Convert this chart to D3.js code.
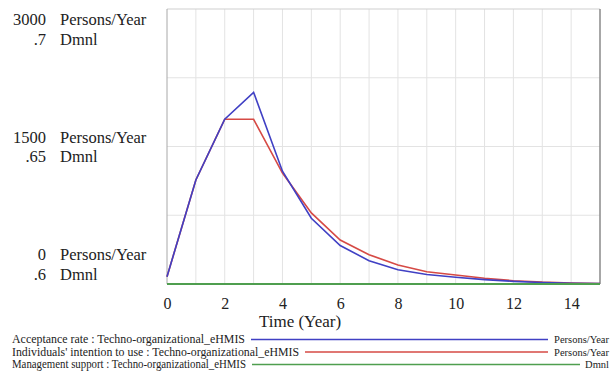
<!DOCTYPE html>
<html>
<head>
<meta charset="utf-8">
<script src="https://cdn.jsdelivr.net/npm/d3@7"></script>
<style>
  html, body { margin: 0; padding: 0; background: #fff; }
  svg { display: block; font-family: "Liberation Serif", "DejaVu Serif", serif; }
</style>
</head>
<body>
<svg id="chart" width="613" height="374"></svg>
<script>
// Simulation output, one value per year
const years = [0, 1, 2, 3, 4, 5, 6, 7, 8, 9, 10, 11, 12, 13, 14, 15];
const acceptanceRate = [80, 1135, 1797, 2091, 1230, 717, 420, 254, 155, 104, 74, 48, 29, 16, 9, 5];
const intentionToUse = [80, 1135, 1797, 1797, 1210, 775, 480, 320, 207, 134, 98, 62, 36, 20, 11, 6];
const managementSupport = [0.6, 0.6, 0.6, 0.6, 0.6, 0.6, 0.6, 0.6, 0.6, 0.6, 0.6, 0.6, 0.6, 0.6, 0.6, 0.6];

// Axis labels
const personsTicks = [0, 1500, 3000];
const dmnlTicks = [".6", ".65", ".7"];
const xTicks = [0, 2, 4, 6, 8, 10, 12, 14];

const seriesNames = [
  "Acceptance rate : Techno-organizational_eHMIS",
  "Individuals' intention to use : Techno-organizational_eHMIS",
  "Management support : Techno-organizational_eHMIS"
];
const seriesUnits = ["Persons/Year", "Persons/Year", "Dmnl"];
const seriesColors = ["#4040c4", "#d64a45", "#4f9e4f"];

const svg = d3.select("#chart");
const plotL = 167, plotR = 600, plotT = 9, plotB = 284;

const x = d3.scaleLinear().domain([0, 15]).range([plotL, plotR]);
const yP = d3.scaleLinear().domain([0, 3000]).range([plotB, plotT]);
const yD = d3.scaleLinear().domain([0.6, 0.7]).range([plotB, plotT]);

// grid
const grid = svg.append("g");
grid.selectAll("line.v").data(d3.range(1, 15)).join("line")
  .attr("class", "v")
  .attr("x1", d => x(d)).attr("x2", d => x(d))
  .attr("y1", plotT).attr("y2", plotB)
  .attr("stroke", "#e3e3e3").attr("stroke-width", 1);
grid.selectAll("line.h").data([750, 1500, 2250]).join("line")
  .attr("class", "h")
  .attr("x1", plotL).attr("x2", plotR)
  .attr("y1", d => yP(d)).attr("y2", d => yP(d))
  .attr("stroke", "#e3e3e3").attr("stroke-width", 1);

// frame
svg.append("line").attr("x1", plotL).attr("x2", plotR).attr("y1", plotT).attr("y2", plotT)
  .attr("stroke", "#cfcfcf");
svg.append("line").attr("x1", plotL).attr("x2", plotL).attr("y1", plotT).attr("y2", plotB)
  .attr("stroke", "#a8a8a8");
svg.append("line").attr("x1", plotR).attr("x2", plotR).attr("y1", plotT).attr("y2", plotB)
  .attr("stroke", "#8a8a8a").attr("stroke-width", 1.5);

// lines
const linePersons = d3.line().x((d, i) => x(years[i])).y(d => yP(d));
const lineDmnl = d3.line().x((d, i) => x(years[i])).y(d => yD(d));

svg.append("path").datum(intentionToUse).attr("d", linePersons)
  .attr("fill", "none").attr("stroke", seriesColors[1]).attr("stroke-width", 1.6);
svg.append("path").datum(acceptanceRate).attr("d", linePersons)
  .attr("fill", "none").attr("stroke", seriesColors[0]).attr("stroke-width", 1.6);
svg.append("path").datum(managementSupport).attr("d", lineDmnl)
  .attr("fill", "none").attr("stroke", seriesColors[2]).attr("stroke-width", 2);

// y labels: value + unit, two stacked scales
const yLab = svg.append("g").attr("font-size", 16.5).attr("fill", "#222");
const rowOffsets = [[-24, -4], [-4, 15], [16, 36]];
personsTicks.forEach((v, i) => {
  const yy = yP(v);
  const [o1, o2] = rowOffsets[i];
  yLab.append("text").attr("x", 46).attr("y", yy + o1).attr("text-anchor", "end").text(v);
  yLab.append("text").attr("x", 60).attr("y", yy + o1).text("Persons/Year");
  yLab.append("text").attr("x", 46).attr("y", yD(+dmnlTicks[i]) + o2).attr("text-anchor", "end").text(dmnlTicks[i]);
  yLab.append("text").attr("x", 60).attr("y", yD(+dmnlTicks[i]) + o2).text("Dmnl");
});

// x axis ticks
const xAxis = svg.append("g").attr("transform", `translate(0,${plotB})`)
  .call(d3.axisBottom(x).tickValues(xTicks).tickSize(0).tickPadding(14).tickFormat(d3.format("d")));
xAxis.select(".domain").remove();
xAxis.selectAll("text").attr("font-size", 16).attr("font-family", "Liberation Serif").attr("fill", "#222");

svg.append("text").attr("x", 300).attr("y", 327).attr("text-anchor", "middle")
  .attr("font-size", 17).attr("fill", "#222").text("Time (Year)");

// legend
const legY = [343, 355.5, 368];
const legTextEnd = [245, 299, 246];
const legLineEnd = [548, 548, 580];
const leg = svg.append("g").attr("font-size", 11.5).attr("fill", "#222");
seriesNames.forEach((name, i) => {
  leg.append("text").attr("x", 12).attr("y", legY[i])
    .attr("textLength", legTextEnd[i] - 12).attr("lengthAdjust", "spacingAndGlyphs").text(name);
  leg.append("line").attr("x1", legTextEnd[i] + 6).attr("x2", legLineEnd[i])
    .attr("y1", legY[i] - 3.5).attr("y2", legY[i] - 3.5)
    .attr("stroke", seriesColors[i]).attr("stroke-width", 1.5);
  leg.append("text").attr("x", 609).attr("y", legY[i]).attr("text-anchor", "end")
    .attr("font-size", 10.5).text(seriesUnits[i]);
});
</script>
</body>
</html>
